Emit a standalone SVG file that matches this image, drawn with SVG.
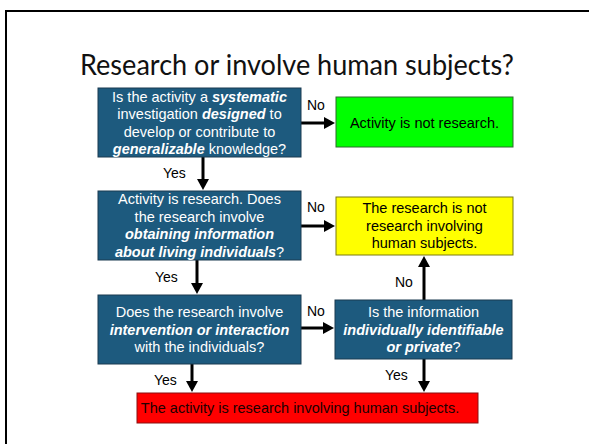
<svg xmlns="http://www.w3.org/2000/svg" width="589" height="444" viewBox="0 0 589 444">
<style>
.q{fill:#1d5a7e;stroke:#1a3a50;stroke-width:1}
.t{font-family:"Liberation Sans",Arial,sans-serif;font-size:14.5px;text-anchor:middle}
.w{fill:#ffffff}
.k{fill:#000000}
.b{font-weight:bold;font-style:italic}
.lbl{font-family:"Liberation Sans",Arial,sans-serif;font-size:14px;fill:#000}
.c{stroke:#000;stroke-width:3;fill:none;marker-end:url(#ah)}
</style>
<defs>
<marker id="ah" markerUnits="userSpaceOnUse" markerWidth="11" markerHeight="12" refX="1" refY="6" orient="auto">
<path d="M0,0 L11,6 L0,12 z" fill="#000"/>
</marker>
</defs>
<rect x="0" y="0" width="589" height="444" fill="#fff"/>
<rect x="6" y="11" width="620" height="460" fill="none" stroke="#000" stroke-width="2"/>
<text x="297" y="75" font-family="Lato,'Open Sans',sans-serif" font-size="28" fill="#111" text-anchor="middle" textLength="434" lengthAdjust="spacingAndGlyphs">Research or involve human subjects?</text>

<g id="connectors">
<line class="c" x1="301" y1="123" x2="325" y2="123"/>
<line class="c" x1="203" y1="157" x2="203" y2="180"/>
<line class="c" x1="301" y1="226" x2="325" y2="226"/>
<line class="c" x1="197" y1="260" x2="197" y2="284"/>
<line class="c" x1="301" y1="328" x2="324" y2="328"/>
<line class="c" x1="424" y1="300" x2="424" y2="266"/>
<line class="c" x1="192" y1="364" x2="192" y2="382"/>
<line class="c" x1="424" y1="359" x2="424" y2="382"/>
<text class="lbl" x="307" y="110">No</text>
<text class="lbl" x="163" y="178">Yes</text>
<text class="lbl" x="307" y="212">No</text>
<text class="lbl" x="155" y="282">Yes</text>
<text class="lbl" x="307" y="316">No</text>
<text class="lbl" x="395" y="287">No</text>
<text class="lbl" x="154" y="385">Yes</text>
<text class="lbl" x="385" y="380">Yes</text>
</g>

<g id="q1">
<rect class="q" x="98" y="88" width="203" height="69"/>
<text class="t w" x="199.5" y="102">Is the activity a <tspan class="b">systematic</tspan></text>
<text class="t w" x="199.5" y="119.3">investigation <tspan class="b">designed</tspan> to</text>
<text class="t w" x="199.5" y="136.6">develop or contribute to</text>
<text class="t w" x="199.5" y="154"><tspan class="b">generalizable</tspan> knowledge?</text>
</g>

<g id="notresearch">
<rect x="336" y="97" width="177" height="50" fill="#00ff00" stroke="#2d6b2d" stroke-width="1"/>
<text class="t k" x="424.5" y="128">Activity is not research.</text>
</g>

<g id="q2">
<rect class="q" x="98" y="191" width="203" height="69"/>
<text class="t w" x="199.5" y="204">Activity is research. Does</text>
<text class="t w" x="199.5" y="221.5">the research involve</text>
<text class="t w b" x="199.5" y="239">obtaining information</text>
<text class="t w" x="199.5" y="256.5"><tspan class="b">about living individuals</tspan>?</text>
</g>

<g id="nothuman">
<rect x="336" y="197" width="177" height="58" fill="#ffff00" stroke="#7a7a10" stroke-width="1"/>
<text class="t k" x="424.5" y="213">The research is not</text>
<text class="t k" x="424.5" y="230.5">research involving</text>
<text class="t k" x="424.5" y="248">human subjects.</text>
</g>

<g id="q3">
<rect class="q" x="98" y="295" width="203" height="69"/>
<text class="t w" x="199.5" y="317">Does the research involve</text>
<text class="t w b" x="199.5" y="334.5">intervention or interaction</text>
<text class="t w" x="199.5" y="352">with the individuals?</text>
</g>

<g id="q4">
<rect class="q" x="335" y="300" width="177" height="59"/>
<text class="t w" x="423.5" y="317">Is the information</text>
<text class="t w b" x="423.5" y="334.5">individually identifiable</text>
<text class="t w" x="423.5" y="352"><tspan class="b">or private</tspan>?</text>
</g>

<g id="human">
<rect x="137" y="393" width="341" height="30" fill="#ff0000" stroke="#8a1010" stroke-width="1"/>
<text class="t" x="300" y="413" fill="#200000">The activity is research involving human subjects.</text>
</g>
</svg>
